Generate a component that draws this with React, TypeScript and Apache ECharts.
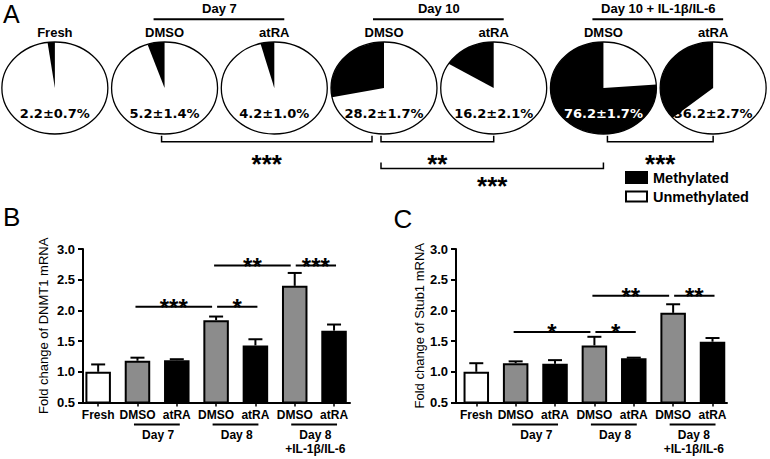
import React, { useEffect, useRef } from 'react';
import * as echarts from 'echarts';

const SANS = '"Liberation Sans", Arial, Helvetica, sans-serif';
const WIDE = '"DejaVu Sans", Verdana, sans-serif';

// ---------- Panel A data ----------
const pieTreatments = ['Fresh', 'DMSO', 'atRA', 'DMSO', 'atRA', 'DMSO', 'atRA'];
const pieMethylatedPct = [2.2, 5.2, 4.2, 28.2, 16.2, 76.2, 36.2];
const pieMethylatedSem = [0.7, 1.4, 1.0, 1.7, 2.1, 1.7, 2.7];
const pieConditionLabels = ['Day 7', 'Day 10', 'Day 10 + IL-1β/IL-6'];
const pieConditionSpans = [[1, 2], [3, 4], [5, 6]];
const pieBracketPairs = [[1, 3], [3, 4], [3, 5], [5, 6]];
const pieBracketLevels = [0, 0, 1, 0];
const pieBracketStars = ['***', '**', '***', '***'];
const legendLabels = ['Methylated', 'Unmethylated'];

// ---------- Panel B / C data ----------
const barCategories = ['Fresh', 'DMSO', 'atRA', 'DMSO', 'atRA', 'DMSO', 'atRA'];
const barGroupLabels = ['Day 7', 'Day 8', 'Day 8\n+IL-1β/IL-6'];
const barGroupSpans = [[1, 2], [3, 4], [5, 6]];
const yTicks = [0.5, 1.0, 1.5, 2.0, 2.5, 3.0];

const dnmt1Mean = [1.0, 1.18, 1.19, 1.84, 1.43, 2.4, 1.67];
const dnmt1Sem = [0.12, 0.05, 0.015, 0.06, 0.1, 0.21, 0.1];
const dnmt1SigPairs = [[1, 3], [3, 4], [3, 5], [5, 6]];
const dnmt1SigHeights = [2.06, 2.06, 2.73, 2.73];
const dnmt1SigStars = ['***', '*', '**', '***'];

const stub1Mean = [1.0, 1.14, 1.13, 1.43, 1.22, 1.96, 1.49];
const stub1Sem = [0.14, 0.03, 0.06, 0.14, 0.01, 0.14, 0.06];
const stub1SigPairs = [[1, 3], [3, 4], [3, 5], [5, 6]];
const stub1SigHeights = [1.65, 1.65, 2.24, 2.24];
const stub1SigStars = ['*', '*', '**', '**'];

const FILL: Record<string, string> = { Fresh: '#ffffff', DMSO: '#8c8c8c', atRA: '#000000' };

function textEl(text: string, x: number, y: number, size: number, o: any = {}) {
  const align = o.align || 'center';
  const va = o.va || 'middle';
  const style: any = {
    text,
    x,
    y,
    fill: o.fill || '#000',
    fontSize: size,
    fontFamily: o.family || SANS,
    fontWeight: o.weight || 'bold',
    align,
    verticalAlign: va,
    textAlign: align,
    textVerticalAlign: va,
  };
  if (o.lineHeight) style.lineHeight = o.lineHeight;
  return { type: 'text', silent: true, style };
}

function barPanelSeries(
  mean: number[],
  sem: number[],
  pairs: number[][],
  heights: number[],
  stars: string[],
  axisIdx: number
) {
  const yMin = yTicks[0];
  return [
    {
      type: 'custom',
      xAxisIndex: axisIdx,
      yAxisIndex: axisIdx,
      z: 1,
      clip: false,
      silent: true,
      data: mean.map((m, i) => [i, m, sem[i]]),
      renderItem: (params: any, api: any) => {
        const i = api.value(0);
        const m = api.value(1);
        const e = api.value(2);
        const base = api.coord([i, m]);
        const top = api.coord([i, m + e]);
        return {
          type: 'group',
          children: [
            { type: 'line', shape: { x1: top[0], y1: base[1], x2: top[0], y2: top[1] }, style: { stroke: '#000', lineWidth: 2 } },
            { type: 'line', shape: { x1: top[0] - 7, y1: top[1], x2: top[0] + 7, y2: top[1] }, style: { stroke: '#000', lineWidth: 2 } },
          ],
        };
      },
    },
    {
      type: 'bar',
      xAxisIndex: axisIdx,
      yAxisIndex: axisIdx,
      z: 2,
      silent: true,
      barWidth: 25.5,
      itemStyle: { borderColor: '#000', borderWidth: 2 },
      data: mean.map((m, i) => ({ value: m, itemStyle: { color: FILL[barCategories[i]] } })),
    },
    {
      type: 'custom',
      xAxisIndex: axisIdx,
      yAxisIndex: axisIdx,
      z: 3,
      clip: false,
      silent: true,
      data: pairs.map(([f, t], i) => [f, t, heights[i]]),
      renderItem: (params: any, api: any) => {
        const idx = params.dataIndex;
        const from = api.value(0);
        const to = api.value(1);
        const h = api.value(2);
        const a = api.coord([from, h]);
        const b = api.coord([to, h]);
        const endsHere = pairs.some(([, t], j) => j !== idx && t === from && heights[j] === h);
        const startsThere = pairs.some(([f], j) => j !== idx && f === to && heights[j] === h);
        const x1 = a[0] + (endsHere ? 1 : -2);
        const x2 = b[0] + (startsThere ? -4 : 2);
        return {
          type: 'group',
          children: [
            { type: 'line', shape: { x1, y1: a[1], x2, y2: a[1] }, style: { stroke: '#000', lineWidth: 2 } },
            textEl(stars[idx], (x1 + x2) / 2, a[1] + 0.5, 24, { lineHeight: 12 }),
          ],
        };
      },
    },
    {
      type: 'custom',
      xAxisIndex: axisIdx,
      yAxisIndex: axisIdx,
      z: 3,
      clip: false,
      silent: true,
      data: barGroupSpans.map(([f, t]) => [f, t]),
      renderItem: (params: any, api: any) => {
        const a = api.coord([api.value(0), yMin]);
        const b = api.coord([api.value(1), yMin]);
        const base = a[1];
        const x1 = a[0] - 3.5;
        const x2 = b[0] + 3;
        return {
          type: 'group',
          children: [
            { type: 'line', shape: { x1, y1: base + 22, x2, y2: base + 22 }, style: { stroke: '#000', lineWidth: 2 } },
            textEl(barGroupLabels[params.dataIndex], (a[0] + b[0]) / 2 + 1, base + 25, 12, { va: 'top', lineHeight: 14.5 }),
          ],
        };
      },
    },
  ];
}

function frameAxes(gridIndex: number, name: string, nameGap: number) {
  const x = {
    gridIndex,
    type: 'value',
    min: 0,
    max: 1,
    axisLine: { show: true, onZero: false, lineStyle: { color: '#000', width: 2 } },
    axisTick: { show: false },
    axisLabel: { show: false },
    splitLine: { show: false },
  };
  const y = {
    gridIndex,
    type: 'value',
    min: yTicks[0],
    max: yTicks[yTicks.length - 1],
    interval: yTicks[1] - yTicks[0],
    axisLine: { show: true, onZero: false, lineStyle: { color: '#000', width: 2 } },
    axisTick: { show: true, length: 5, lineStyle: { color: '#000', width: 2 } },
    axisLabel: {
      margin: 8,
      color: '#000',
      fontSize: 13,
      fontWeight: 'bold',
      fontFamily: SANS,
      formatter: (v: number) => v.toFixed(1),
    },
    splitLine: { show: false },
    name,
    nameLocation: 'middle',
    nameGap,
    nameTextStyle: { color: '#000', fontSize: 13, fontFamily: SANS, fontWeight: 'normal' },
  };
  return { x, y };
}

function barAxes(gridIndex: number) {
  const x = {
    gridIndex,
    type: 'category',
    data: barCategories,
    axisLine: { show: false },
    axisTick: { show: true, alignWithLabel: true, length: 4, lineStyle: { color: '#000', width: 1.5 } },
    axisLabel: { interval: 0, margin: 6, color: '#000', fontSize: 12, fontWeight: 'bold', fontFamily: SANS },
    splitLine: { show: false },
  };
  const y = {
    gridIndex,
    type: 'value',
    min: yTicks[0],
    max: yTicks[yTicks.length - 1],
    show: false,
    splitLine: { show: false },
  };
  return { x, y };
}

function buildOption() {
  const fB = frameAxes(1, 'Fold change of DNMT1 mRNA', 33);
  const bB = barAxes(2);
  const fC = frameAxes(3, 'Fold change of Stub1 mRNA', 28);
  const bC = barAxes(4);

  const pieSeries = {
    type: 'custom',
    xAxisIndex: 0,
    yAxisIndex: 0,
    clip: false,
    silent: true,
    data: pieMethylatedPct.map((v, i) => [i, v, pieMethylatedSem[i]]),
    renderItem: (params: any, api: any) => {
      const i = api.value(0);
      const pct = api.value(1);
      const sem = api.value(2);
      const [cx, cy] = api.coord([i, 0.5]);
      const band = api.size([1, 0])[0];
      const ry = Math.abs(api.size([0, 1])[1]) / 2;
      const rx = band * 0.483;
      const frac = pct / 100;
      const start = -Math.PI / 2 - frac * 2 * Math.PI;
      return {
        type: 'group',
        children: [
          { type: 'ellipse', shape: { cx, cy, rx, ry }, style: { fill: '#fff' } },
          {
            type: 'group',
            x: cx,
            y: cy,
            scaleY: ry / rx,
            children: [
              {
                type: 'sector',
                shape: { cx: 0, cy: 0, r0: 0, r: rx, startAngle: start, endAngle: -Math.PI / 2, clockwise: true },
                style: { fill: '#000' },
              },
            ],
          },
          { type: 'ellipse', shape: { cx, cy, rx, ry }, style: { fill: 'none', stroke: '#000', lineWidth: 1.3 } },
          textEl(`${pct.toFixed(1)}±${sem.toFixed(1)}%`, cx, cy + 25, 13, {
            family: WIDE,
            fill: pct > 50 ? '#fff' : '#000',
          }),
        ],
      };
    },
  };

  const pieHeaderSeries = {
    type: 'custom',
    xAxisIndex: 0,
    yAxisIndex: 0,
    clip: false,
    silent: true,
    data: pieConditionSpans.map(([a, b]) => [a, b]),
    renderItem: (params: any, api: any) => {
      const a = api.coord([api.value(0), 1]);
      const b = api.coord([api.value(1), 1]);
      const top = a[1];
      return {
        type: 'group',
        children: [
          { type: 'line', shape: { x1: a[0] - 11, y1: top - 22.7, x2: b[0] + 10, y2: top - 22.7 }, style: { stroke: '#000', lineWidth: 2 } },
          textEl(pieConditionLabels[params.dataIndex], (a[0] + b[0]) / 2, top - 33.5, 13),
        ],
      };
    },
  };

  const pieBracketSeries = {
    type: 'custom',
    xAxisIndex: 0,
    yAxisIndex: 0,
    clip: false,
    silent: true,
    data: pieBracketPairs.map(([f, t], i) => [f, t, pieBracketLevels[i]]),
    renderItem: (params: any, api: any) => {
      const idx = params.dataIndex;
      const from = api.value(0);
      const to = api.value(1);
      const level = api.value(2);
      const p1 = api.coord([from, 0]);
      const p2 = api.coord([to, 0]);
      const y = p1[1] + 7.7 + level * 26.7;
      const shortRight = pieBracketPairs.some(([f], j) => j !== idx && f === to && pieBracketLevels[j] === level);
      const afterHigher = pieBracketPairs.some(([, t], j) => j !== idx && t === from && pieBracketLevels[j] > level);
      const x1 = p1[0] + (afterHigher ? 4 : -3);
      const x2 = p2[0] + (shortRight ? -12 : 0);
      return {
        type: 'group',
        children: [
          {
            type: 'polyline',
            shape: { points: [[x1, y - 6], [x1, y], [x2, y], [x2, y - 6]] },
            style: { stroke: '#000', lineWidth: 1.5, fill: 'none' },
          },
          textEl(pieBracketStars[idx], (x1 + x2) / 2, y + 22 - level * 4, 26, { lineHeight: 12 }),
        ],
      };
    },
  };

  return {
    animation: false,
    backgroundColor: '#ffffff',
    grid: [
      { left: 0, width: 768, top: 42, height: 92 },
      { left: 83, width: 267, top: 249, height: 153.5 },
      { left: 78.5, width: 275.2, top: 249, height: 153.5 },
      { left: 456, width: 271, top: 249, height: 153.5 },
      { left: 456.6, width: 275.6, top: 249, height: 153.5 },
    ],
    xAxis: [
      {
        gridIndex: 0,
        type: 'category',
        position: 'top',
        data: pieTreatments,
        axisLine: { show: false },
        axisTick: { show: false },
        axisLabel: { interval: 0, margin: 3, color: '#000', fontSize: 13, fontWeight: 'bold', fontFamily: SANS },
        splitLine: { show: false },
      },
      fB.x,
      bB.x,
      fC.x,
      bC.x,
    ],
    yAxis: [
      { gridIndex: 0, type: 'value', min: 0, max: 1, show: false, splitLine: { show: false } },
      fB.y,
      bB.y,
      fC.y,
      bC.y,
    ],
    series: [
      pieSeries,
      pieHeaderSeries,
      pieBracketSeries,
      ...barPanelSeries(dnmt1Mean, dnmt1Sem, dnmt1SigPairs, dnmt1SigHeights, dnmt1SigStars, 2),
      ...barPanelSeries(stub1Mean, stub1Sem, stub1SigPairs, stub1SigHeights, stub1SigStars, 4),
    ],
    graphic: [
      textEl('A', 3, 14, 25, { weight: 'normal', align: 'left', lineHeight: 22 }),
      textEl('B', 3, 217, 26, { weight: 'normal', align: 'left', lineHeight: 22 }),
      textEl('C', 393.5, 219, 26, { weight: 'normal', align: 'left', lineHeight: 22 }),
      { type: 'rect', silent: true, shape: { x: 625, y: 171, width: 23, height: 13 }, style: { fill: '#000' } },
      { type: 'rect', silent: true, shape: { x: 626, y: 191.5, width: 21, height: 10 }, style: { fill: '#fff', stroke: '#000', lineWidth: 2 } },
      textEl(legendLabels[0], 653, 178, 14.5, { align: 'left' }),
      textEl(legendLabels[1], 653, 197, 14.5, { align: 'left' }),
    ],
  };
}

export default function App() {
  const ref = useRef<HTMLDivElement>(null);
  useEffect(() => {
    if (!ref.current) return;
    const chart = echarts.init(ref.current, undefined, { renderer: 'svg' });
    chart.setOption(buildOption() as any);
    return () => chart.dispose();
  }, []);
  return (
    <div
      ref={ref}
      style={{ position: 'fixed', left: 0, top: 0, width: 770, height: 459, background: '#fff' }}
    />
  );
}
